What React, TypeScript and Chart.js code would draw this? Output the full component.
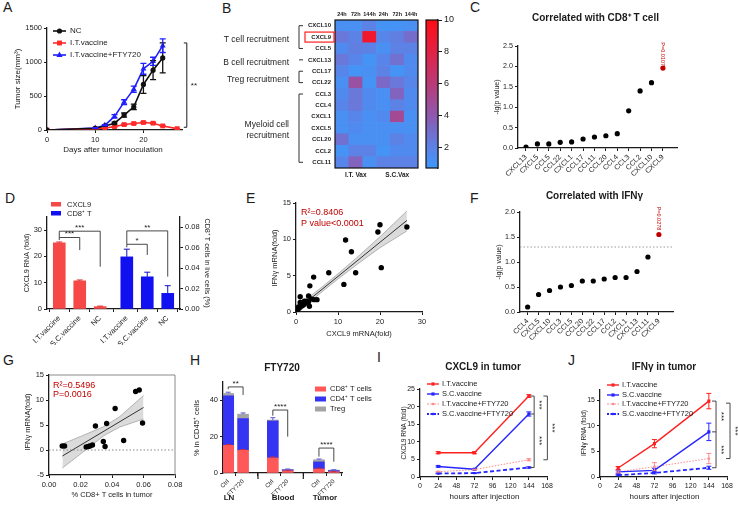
import React, { useEffect, useRef } from 'react';
import { Chart, registerables } from 'chart.js';

Chart.register(...registerables);

const FONT = '"Liberation Sans", Arial, Helvetica, sans-serif';
const INK = '#1b1b1b';

/* ================= DATA ================= */
// A – tumour growth
const A_DAYS = [0, 10, 12, 14, 16, 18, 20, 22, 24];
const A_NC = [0, 25, 60, 100, 220, 340, 670, 880, 1060];
const A_NC_ERR = [0, 5, 10, 15, 30, 40, 130, 140, 220];
const A_FTY = [0, 30, 70, 200, 410, 600, 900, 1010, 1240];
const A_FTY_ERR = [0, 5, 10, 25, 35, 45, 80, 60, 100];
const A_IT_DAYS = [0, 10, 12, 14, 16, 18, 20, 22, 24, 27];
const A_IT = [0, 20, 30, 50, 80, 95, 110, 100, 60, 20];
const A_IT_ERR = [0, 3, 5, 6, 10, 8, 12, 10, 8, 5];
const A_X_TICKS = [0, 10, 20];
const A_Y_TICKS = [0, 500, 1000, 1500];

// B – heatmap
const B_GENES = ['CXCL10', 'CXCL9', 'CCL5', 'CXCL13', 'CCL17', 'CCL22', 'CCL3', 'CCL4', 'CXCL1', 'CXCL5', 'CCL20', 'CCL2', 'CCL11'];
const B_COLS = ['24h', '72h', '144h', '24h', '72h', '144h'];
const B_GROUPS = ['I.T. Vax', 'S.C.Vax'];
const B_VALUES = [
  [1.2, 1.2, 2.0, 1.0, 1.0, 1.2],
  [2.5, 2.0, 9.0, 1.8, 2.2, 3.0],
  [1.5, 2.2, 2.0, 1.2, 2.0, 2.0],
  [2.5, 1.8, 1.0, 1.8, 2.8, 1.5],
  [1.8, 1.0, 1.2, 2.0, 1.0, 1.5],
  [1.2, 4.5, 1.0, 3.2, 2.5, 1.8],
  [1.5, 2.5, 1.5, 1.2, 3.5, 1.5],
  [1.8, 2.5, 1.5, 1.2, 2.0, 1.5],
  [1.2, 1.8, 1.2, 1.5, 5.0, 1.2],
  [1.2, 1.5, 1.2, 1.2, 1.2, 1.2],
  [2.8, 1.2, 1.2, 1.2, 2.0, 1.5],
  [1.0, 2.0, 2.0, 1.0, 1.5, 1.5],
  [1.8, 3.5, 1.2, 2.0, 2.0, 2.0],
];
const B_GROUP_ROWS: [number, number, string[]][] = [
  [0, 2, ['T cell recruitment']],
  [3, 3, ['B cell recruitment']],
  [4, 5, ['Treg recruitment']],
  [6, 12, ['Myeloid cell', 'recruitment']],
];
const B_MIN = 0.7;
const B_MAX = 10;
const B_BAR_TICKS = [2, 4, 6, 8, 10];

// C – correlation with CD8+ T cells
const C_GENES = ['CXCL13', 'CXCL5', 'CCL5', 'CCL22', 'CXCL1', 'CCL17', 'CCL11', 'CCL20', 'CCL4', 'CCL3', 'CCL2', 'CXCL10', 'CXCL9'];
const C_LOGP = [0.02, 0.1, 0.1, 0.14, 0.15, 0.22, 0.27, 0.3, 0.35, 0.91, 1.4, 1.6, 1.96];
const C_Y_TICKS = [0, 0.5, 1, 1.5, 2, 2.5];

// D – CXCL9 RNA & CD8 T cells
const D_LABELS = ['I.T.vaccine', 'S.C.vaccine', 'NC', 'I.T.vaccine', 'S.C.vaccine', 'NC'];
const D_POS = [0.6, 1.6, 2.6, 3.9, 4.9, 5.9];
const D_CXCL9 = [25.2, 10.7, 0.9];
const D_CXCL9_ERR = [0.3, 0.35, 0.2];
const D_CD8 = [0.051, 0.0315, 0.0153];
const D_CD8_ERR = [0.0075, 0.0045, 0.0075];
const D_Y_TICKS = [0, 10, 20, 30];
const D_Y2_TICKS = [0, 0.02, 0.04, 0.06, 0.08];

// E – CXCL9 vs IFNγ
const E_X = [26.4, 20.0, 19.5, 20.3, 11.8, 13.2, 14.2, 11.4, 7.8, 4.2, 3.3, 1.0, 3.0, 3.6, 4.3, 5.0, 3.0, 3.2, 2.0, 1.5, 1.2, 0.5, 0.8, 1.5, 2.5, 0.3, 1.0, 2.2, 0.6, 1.8];
const E_Y = [11.7, 12.0, 11.0, 6.1, 9.9, 8.3, 5.4, 3.8, 5.4, 4.8, 3.6, 2.1, 2.2, 1.8, 1.7, 1.7, 1.4, 0.8, 1.5, 1.2, 0.8, 0.4, 0.6, 0.9, 1.5, 0.2, 1.3, 1.2, 0.7, 1.0];
const E_FIT_X = [0.3, 26.4];
const E_FIT_Y = [0.35, 12.6];
const E_BAND_X = [0.3, 3, 6, 10, 15, 20, 26.4];
const E_BAND_HI = [0.9, 2.0, 3.35, 5.25, 7.75, 10.35, 13.9];
const E_BAND_LO = [-0.2, 1.2, 2.7, 4.55, 6.75, 8.85, 11.15];
const E_X_TICKS = [0, 10, 20, 30];
const E_Y_TICKS = [0, 5, 10, 15];

// F – correlation with IFNγ
const F_GENES = ['CCL4', 'CXCL5', 'CXCL10', 'CCL3', 'CCL5', 'CCL20', 'CCL22', 'CCL17', 'CCL2', 'CXCL1', 'CXCL13', 'CCL11', 'CXCL9'];
const F_LOGP = [0.1, 0.35, 0.43, 0.5, 0.53, 0.62, 0.62, 0.66, 0.69, 0.69, 0.81, 1.1, 1.55];
const F_THRESH = 1.3;
const F_Y_TICKS = [0, 0.5, 1, 1.5, 2];

// G – CD8 vs IFNγ
const G_X = [0.0084, 0.0099, 0.0236, 0.025, 0.026, 0.0276, 0.0295, 0.0345, 0.0356, 0.0366, 0.042, 0.0474, 0.055, 0.0573, 0.0594];
const G_Y = [0.8, 0.8, 0.6, 0.7, 0.8, 1.0, 4.8, 1.7, 0.7, 5.3, 8.3, 1.9, 11.7, 12.0, 5.4];
const G_FIT_X = [0.0085, 0.06];
const G_FIT_Y = [-1.2, 8.5];
const G_BAND_X = [0.0085, 0.02, 0.035, 0.045, 0.06];
const G_BAND_HI = [1.2, 2.7, 4.7, 6.7, 10.9];
const G_BAND_LO = [-3.6, -0.8, 2.9, 4.6, 6.2];
const G_X_TICKS = [0, 0.02, 0.04, 0.06, 0.08];
const G_Y_TICKS = [-5, 0, 5, 10, 15];

// H – FTY720 stacked bars
const H_XLABELS = ['Ctrl', 'FTY720', 'Ctrl', 'FTY720', 'Ctrl', 'FTY720'];
const H_POS = [0.35, 1.35, 3.35, 4.35, 6.45, 7.45];
const H_GROUPS = ['LN', 'Blood', 'Tumor'];
const H_CD8 = [15.2, 12.5, 8.3, 1.2, 2.2, 0.7];
const H_CD4 = [27.2, 17.4, 20.3, 0.5, 3.9, 0.6];
const H_TREG = [1.3, 2.4, 0.5, 0.3, 1.2, 0.3];
const H_CD8_ERR = [0.4, 0.4, 0.5, 0.2, 0.4, 0.1];
const H_TOP_ERR = [0.7, 0.7, 1.3, 0.2, 0.4, 0.2];
const H_Y_TICKS = [0, 20, 40];

// I / J – time courses
const T_HOURS = [24, 72, 144];
const T_X_TICKS = [0, 24, 48, 72, 96, 120, 144, 168];
const T_SERIES = ['I.T.vaccine', 'S.C.vaccine', 'I.T.vaccine+FTY720', 'S.C.vaccine+FTY720'];
const I_IT = [6.9, 6.9, 23.0];
const I_SC = [3.0, 2.2, 17.9];
const I_ITF = [1.5, 2.1, 4.9];
const I_SCF = [1.0, 1.1, 2.7];
const I_IT_ERR = [0.3, 0.3, 0.4];
const I_SC_ERR = [0.2, 0.2, 0.6];
const I_ITF_ERR = [0.1, 0.1, 0.3];
const I_SCF_ERR = [0.1, 0.1, 0.2];
const I_Y_TICKS = [0, 5, 10, 15, 20, 25];
const J_IT = [1.75, 6.5, 14.8];
const J_SC = [1.0, 1.3, 8.8];
const J_ITF = [1.0, 2.0, 3.6];
const J_SCF = [0.35, 0.8, 1.8];
const J_IT_ERR = [0.3, 0.8, 1.5];
const J_SC_ERR = [0.3, 0.4, 1.7];
const J_ITF_ERR = [0.2, 0.8, 1.0];
const J_SCF_ERR = [0.1, 0.2, 0.3];
const J_Y_TICKS = [0, 5, 10, 15];

/* ================= HELPERS ================= */
type Box = { x: number; y: number; w: number; h: number };
type Area = { l: number; t: number; r: number; b: number };

const wFit = (w: number) => (s: any) => { s.width = w; s.paddingTop = 0; s.paddingBottom = 0; };
const hFit = (h: number) => (s: any) => { s.height = h; s.paddingLeft = 0; s.paddingRight = 0; };
const pad = (B: Box, A: Area, rightAxis = false) => ({ left: 0, top: A.t - B.y, right: rightAxis ? 0 : B.x + B.w - A.r, bottom: 0 });

function lin(o: any) {
  return {
    type: 'linear',
    position: o.pos,
    min: o.min,
    max: o.max,
    offset: false,
    stacked: o.stacked || false,
    afterBuildTicks: (s: any) => { s.ticks = o.ticks.map((v: number) => ({ value: v })); },
    afterFit: o.fit,
    grid: { display: true, drawOnChartArea: false, drawTicks: true, tickLength: o.tl ?? 3, color: INK, tickColor: INK, lineWidth: 1 },
    border: { display: true, color: INK, width: 1.3 },
    ticks: {
      color: INK,
      font: { size: o.fs ?? 7.5, family: FONT },
      padding: o.pad ?? 2,
      autoSkip: false,
      maxRotation: o.rot ?? 0,
      minRotation: o.rot ?? 0,
      callback: o.cb || ((v: number) => String(v)),
    },
  };
}

function baseOpts(extra: any) {
  return {
    responsive: false,
    animation: false,
    devicePixelRatio: 1,
    events: [],
    plugins: { legend: { display: false }, tooltip: { enabled: false } },
    ...extra,
  };
}

function txt(ctx: any, s: string, x: number, y: number, o: any = {}) {
  ctx.save();
  ctx.translate(x, y);
  if (o.rot) ctx.rotate((o.rot * Math.PI) / 180);
  ctx.font = `${o.bold ? 'bold ' : ''}${o.size ?? 7.5}px ${FONT}`;
  ctx.fillStyle = o.color ?? INK;
  ctx.textAlign = o.align ?? 'center';
  ctx.textBaseline = o.base ?? 'middle';
  ctx.fillText(s, 0, 0);
  ctx.restore();
}

function seg(ctx: any, pts: number[][], o: any = {}) {
  ctx.save();
  ctx.strokeStyle = o.color ?? INK;
  ctx.lineWidth = o.w ?? 1;
  ctx.setLineDash(o.dash ?? []);
  ctx.beginPath();
  pts.forEach((p, i) => (i ? ctx.lineTo(p[0], p[1]) : ctx.moveTo(p[0], p[1])));
  ctx.stroke();
  ctx.restore();
}

function marker(ctx: any, style: string, x: number, y: number, r: number, color: string) {
  ctx.save();
  ctx.fillStyle = color;
  ctx.beginPath();
  if (style === 'circle') ctx.arc(x, y, r, 0, Math.PI * 2);
  else if (style === 'rect') ctx.rect(x - r * 0.72, y - r * 0.72, r * 1.44, r * 1.44);
  else if (style === 'triangle') { ctx.moveTo(x, y - r); ctx.lineTo(x + r * 0.9, y + r * 0.6); ctx.lineTo(x - r * 0.9, y + r * 0.6); ctx.closePath(); }
  ctx.fill();
  ctx.restore();
}

function tools(ctx: any, B: Box) {
  return {
    T: (s: string, x: number, y: number, o?: any) => txt(ctx, s, x - B.x, y - B.y, o),
    L: (pts: number[][], o?: any) => seg(ctx, pts.map((p) => [p[0] - B.x, p[1] - B.y]), o),
    R: (x: number, y: number, w: number, h: number, c: string) => { ctx.save(); ctx.fillStyle = c; ctx.fillRect(x - B.x, y - B.y, w, h); ctx.restore(); },
    M: (st: string, x: number, y: number, r: number, c: string) => marker(ctx, st, x - B.x, y - B.y, r, c),
  };
}

// horizontal significance bracket in data coordinates
function hBracket(ctx: any, xs: any, ys: any, x1: number, x2: number, y: number, yl: number, yr: number, stars: string) {
  const a = xs.getPixelForValue(x1), b = xs.getPixelForValue(x2);
  const py = ys.getPixelForValue(y);
  seg(ctx, [[a, ys.getPixelForValue(yl)], [a, py], [b, py], [b, ys.getPixelForValue(yr)]], { color: '#333', w: 0.9 });
  txt(ctx, stars, (a + b) / 2, py - 3.5, { size: 8 });
}

// vertical significance bracket in data coordinates
function vBracket(ctx: any, xs: any, ys: any, xv: number, yv: number[], stars: string) {
  const px = xs.getPixelForValue(xv);
  const pys = yv.map((v) => ys.getPixelForValue(v));
  seg(ctx, [[px, pys[0]], [px, pys[pys.length - 1]]], { color: '#333', w: 0.9 });
  pys.forEach((p) => seg(ctx, [[px - 4, p], [px, p]], { color: '#333', w: 0.9 }));
  for (let i = 0; i < pys.length - 1; i++) txt(ctx, stars, px + 5, (pys[i] + pys[i + 1]) / 2, { size: 8, rot: 90 });
}

const errPlugin = {
  id: 'errbars',
  afterDatasetsDraw(chart: any) {
    const ctx = chart.ctx;
    chart.data.datasets.forEach((ds: any, i: number) => {
      if (!ds.errs) return;
      const meta = chart.getDatasetMeta(i);
      const sc = chart.scales[meta.yAxisID];
      const ppu = Math.abs(sc.getPixelForValue(1) - sc.getPixelForValue(0));
      ctx.save();
      ctx.setLineDash([]);
      ctx.strokeStyle = ds.errColor || ds.borderColor;
      ctx.lineWidth = ds.errWidth || 1;
      meta.data.forEach((el: any, j: number) => {
        const e = ds.errs[j];
        if (!e) return;
        const d = e * ppu, c = ds.cap ?? 3;
        const y1 = el.y - d, y2 = ds.upOnly ? el.y : el.y + d;
        ctx.beginPath();
        ctx.moveTo(el.x, y1); ctx.lineTo(el.x, y2);
        ctx.moveTo(el.x - c, y1); ctx.lineTo(el.x + c, y1);
        if (!ds.upOnly) { ctx.moveTo(el.x - c, y2); ctx.lineTo(el.x + c, y2); }
        ctx.stroke();
      });
      ctx.restore();
    });
  },
};

const deco = (fn: (chart: any) => void) => ({ id: 'deco', afterDraw: fn });

const CMAP: [number, number[]][] = [
  [0.7, [62, 152, 250]], [2, [92, 130, 230]], [4, [142, 88, 176]], [6, [186, 58, 118]], [8, [226, 34, 70]], [10, [255, 12, 20]],
];
function heatColor(v: number) {
  const x = Math.max(CMAP[0][0], Math.min(CMAP[CMAP.length - 1][0], v));
  for (let i = 0; i < CMAP.length - 1; i++) {
    const [a, ca] = CMAP[i], [b, cb] = CMAP[i + 1];
    if (x <= b) {
      const t = (x - a) / (b - a);
      const c = ca.map((q, k) => Math.round(q + (cb[k] - q) * t));
      return `rgb(${c[0]},${c[1]},${c[2]})`;
    }
  }
  return 'rgb(255,12,20)';
}

const pts = (xs: number[], ys: number[]) => xs.map((x, i) => ({ x, y: ys[i] }));

/* ================= PANELS ================= */
// ---- A
const BA: Box = { x: 0, y: 15, w: 215, h: 145 };
const AA: Area = { l: 47, t: 28, r: 182, b: 130 };
function makeA() {
  const ds = (xs: number[], ys: number[], errs: number[], color: string, style: string, r: number) => ({
    data: pts(xs, ys), borderColor: color, backgroundColor: color, pointBackgroundColor: color, pointBorderColor: color,
    pointStyle: style, pointRadius: r, pointBorderWidth: 0, borderWidth: 1.6, errs, cap: 3, errColor: color, errWidth: 1.3,
  });
  return {
    type: 'line',
    data: {
      datasets: [
        ds(A_DAYS, A_NC, A_NC_ERR, '#111111', 'circle', 2.6),
        ds(A_IT_DAYS, A_IT, A_IT_ERR, '#ff2a2a', 'rect', 3.4),
        ds(A_DAYS, A_FTY, A_FTY_ERR, '#1f1fff', 'triangle', 3.4),
      ],
    },
    options: baseOpts({
      layout: { padding: pad(BA, AA) },
      scales: {
        x: lin({ pos: 'bottom', min: 0, max: 28, ticks: A_X_TICKS, fit: hFit(BA.y + BA.h - AA.b) }),
        y: lin({ pos: 'left', min: 0, max: 1500, ticks: A_Y_TICKS, fit: wFit(AA.l - BA.x) }),
      },
    }),
    plugins: [errPlugin, deco((chart: any) => {
      const { T, L, M } = tools(chart.ctx, BA);
      const leg: [string, string, string][] = [['NC', '#111111', 'circle'], ['I.T.vaccine', '#ff2a2a', 'rect'], ['I.T.vaccine+FTY720', '#1f1fff', 'triangle']];
      leg.forEach(([s, c, st], i) => {
        const y = 31 + i * 12;
        L([[53, y], [66, y]], { color: c, w: 1.6 });
        M(st, 59.5, y, st === 'circle' ? 2.6 : 3.4, c);
        T(s, 70, y, { align: 'left', size: 8 });
      });
      const xs = chart.scales.x, ys = chart.scales.y;
      const bx = xs.getPixelForValue(29) + BA.x;
      const t = ys.getPixelForValue(1280) + BA.y, b = ys.getPixelForValue(40) + BA.y;
      L([[bx - 3, t], [bx, t], [bx, b], [bx - 3, b]], { w: 1 });
      T('**', bx + 4, (t + b) / 2 + 1, { align: 'left', size: 8 });
      T('Tumor size(mm³)', 18, 79, { rot: -90, size: 8 });
      T('Days after tumor inoculation', 113, 150, { size: 8 });
    })],
  };
}

// ---- B heatmap
const BB: Box = { x: 215, y: 0, w: 225, h: 182 };
const AB: Area = { l: 335, t: 20, r: 418, b: 168 };
function makeB() {
  return {
    type: 'bar',
    data: {
      labels: B_COLS,
      datasets: B_GENES.map((g, k) => ({
        label: g,
        data: B_COLS.map(() => 1),
        backgroundColor: B_VALUES[k].map(heatColor),
        borderWidth: 0,
        barPercentage: 1,
        categoryPercentage: 1,
      })).reverse(),
    },
    options: baseOpts({
      layout: { padding: { left: AB.l - BB.x, top: AB.t - BB.y, right: BB.x + BB.w - AB.r, bottom: BB.y + BB.h - AB.b } },
      scales: {
        x: { display: false, stacked: true },
        y: { display: false, stacked: true, min: 0, max: B_GENES.length },
      },
    }),
    plugins: [deco((chart: any) => {
      const ctx = chart.ctx;
      const { x, y } = chart.scales;
      const ca = chart.chartArea;
      const n = B_GENES.length;
      const rowY = (k: number) => y.getPixelForValue(n - 0.5 - k);
      ctx.save();
      ctx.strokeStyle = '#111';
      ctx.lineWidth = 1.2;
      ctx.strokeRect(ca.left, ca.top, ca.right - ca.left, ca.bottom - ca.top);
      ctx.restore();
      B_COLS.forEach((c, i) => txt(ctx, c, x.getPixelForValue(i), ca.top - 6, { size: 5.5, bold: true }));
      B_GENES.forEach((g, k) => txt(ctx, g, ca.left - 4, rowY(k), { size: 6, bold: true, align: 'right' }));
      B_GROUPS.forEach((g, i) => txt(ctx, g, (x.getPixelForValue(3 * i) + x.getPixelForValue(3 * i + 2)) / 2, ca.bottom + 7, { size: 6.5, bold: true }));
      const bx = 299 - BB.x;
      B_GROUP_ROWS.forEach(([r0, r1, lines]) => {
        const y0 = rowY(r0), y1 = rowY(r1);
        if (r0 === r1) seg(ctx, [[bx, y0], [bx + 4, y0]], { color: '#333' });
        else seg(ctx, [[bx + 4, y0], [bx, y0], [bx, y1], [bx + 4, y1]], { color: '#333' });
        const mid = (y0 + y1) / 2 + 2.5;
        lines.forEach((s, i) => txt(ctx, s, 289 - BB.x, mid + (i - (lines.length - 1) / 2) * 11, { size: 8.5, align: 'right' }));
      });
      const ry = rowY(1);
      ctx.save();
      ctx.strokeStyle = '#ff2020';
      ctx.lineWidth = 1.2;
      ctx.strokeRect(305 - BB.x, ry - 5, 29, 10);
      ctx.restore();
    })],
  };
}

// ---- B colour bar
const BCB: Box = { x: 420, y: 10, w: 45, h: 168 };
const ACB: Area = { l: 426, t: 20, r: 438, b: 168 };
function makeCbar() {
  return {
    type: 'scatter',
    data: { datasets: [{ data: [] }] },
    options: baseOpts({
      layout: { padding: { left: ACB.l - BCB.x, top: ACB.t - BCB.y, right: 0, bottom: BCB.y + BCB.h - ACB.b } },
      scales: {
        x: { display: false, min: 0, max: 1 },
        y: lin({ pos: 'right', min: B_MIN, max: B_MAX, ticks: B_BAR_TICKS, fit: wFit(BCB.x + BCB.w - ACB.r), fs: 9, tl: 4 }),
      },
    }),
    plugins: [deco((chart: any) => {
      const ctx = chart.ctx, ca = chart.chartArea;
      const g = ctx.createLinearGradient(0, ca.bottom, 0, ca.top);
      CMAP.forEach(([v]) => g.addColorStop((v - B_MIN) / (B_MAX - B_MIN), heatColor(v)));
      ctx.save();
      ctx.fillStyle = g;
      ctx.fillRect(ca.left, ca.top, ca.right - ca.left, ca.bottom - ca.top);
      ctx.strokeStyle = '#111';
      ctx.lineWidth = 1.2;
      ctx.strokeRect(ca.left, ca.top, ca.right - ca.left, ca.bottom - ca.top);
      ctx.restore();
    })],
  };
}

// ---- C / F dot plots
function makeDots(B: Box, A: Area, genes: string[], vals: number[], yMax: number, yTicks: number[], title: string, pText: string, pY: number, thresh: number | null) {
  return {
    type: 'scatter',
    data: {
      datasets: [{
        data: vals.map((v, i) => ({ x: i, y: v })),
        pointRadius: 2.6,
        pointBorderWidth: 0,
        pointBackgroundColor: vals.map((_, i) => (i === vals.length - 1 ? '#c00000' : '#000')),
      }],
    },
    options: baseOpts({
      layout: { padding: pad(B, A) },
      scales: {
        x: lin({ pos: 'bottom', min: -0.7, max: (A.r - A.l) / ((A.r - A.l - 15) / (genes.length - 1 + 0.62)) - 0.7, ticks: genes.map((_, i) => i), cb: (_v: number, i: number) => genes[i], rot: 45, fs: 7.2, fit: hFit(B.y + B.h - A.b) }),
        y: lin({ pos: 'left', min: 0, max: yMax, ticks: yTicks, cb: (v: number) => v.toFixed(1), fs: 7.2, fit: wFit(A.l - B.x) }),
      },
    }),
    plugins: [deco((chart: any) => {
      const ctx = chart.ctx;
      const { T } = tools(ctx, B);
      const { x, y } = chart.scales;
      if (thresh !== null) {
        const py = y.getPixelForValue(thresh);
        seg(ctx, [[chart.chartArea.left, py], [chart.chartArea.right, py]], { color: '#9a9a9a', w: 1, dash: [1.5, 2] });
      }
      txt(ctx, pText, x.getPixelForValue(genes.length - 1), y.getPixelForValue(pY), { size: 5.5, rot: 90, color: '#c00000' });
      T(title, (A.l + A.r) / 2 - 2, A.t - (thresh === null ? 28 : 16), { size: 10, bold: true });
      T('-lg(p value)', A.l - 21, (A.t + A.b) / 2, { rot: -90, size: 7 });
    })],
  };
}
const BC: Box = { x: 490, y: 8, w: 200, h: 178 };
const AC: Area = { l: 518, t: 46, r: 677, b: 148 };
const BF: Box = { x: 490, y: 186, w: 200, h: 164 };
const AF: Area = { l: 520, t: 212, r: 673, b: 312 };

// ---- D
const BD: Box = { x: 0, y: 195, w: 215, h: 150 };
const AD: Area = { l: 47, t: 217, r: 180, b: 309 };
function makeD() {
  return {
    type: 'bar',
    data: {
      datasets: [
        { data: pts(D_POS.slice(0, 3), D_CXCL9), backgroundColor: '#f74848', yAxisID: 'y', barThickness: 12, grouped: false, errs: D_CXCL9_ERR, upOnly: true, errColor: '#d83030', cap: 3 },
        { data: pts(D_POS.slice(3), D_CD8), backgroundColor: '#1010f0', yAxisID: 'y2', barThickness: 12, grouped: false, errs: D_CD8_ERR, upOnly: true, errColor: '#1010c0', cap: 3 },
      ],
    },
    options: baseOpts({
      layout: { padding: pad(BD, AD, true) },
      scales: {
        x: lin({ pos: 'bottom', min: 0, max: 6.5, ticks: D_POS, cb: (_v: number, i: number) => D_LABELS[i], rot: 45, fit: hFit(BD.y + BD.h - AD.b) }),
        y: lin({ pos: 'left', min: 0, max: 35, ticks: D_Y_TICKS, fit: wFit(AD.l - BD.x) }),
        y2: lin({ pos: 'right', min: 0, max: 0.09, ticks: D_Y2_TICKS, cb: (v: number) => v.toFixed(2), fit: wFit(BD.x + BD.w - AD.r) }),
      },
    }),
    plugins: [errPlugin, deco((chart: any) => {
      const ctx = chart.ctx;
      const { T, R } = tools(ctx, BD);
      const { x, y, y2 } = chart.scales;
      R(51, 202, 10, 4.5, '#f74848');
      T('CXCL9', 67, 204.5, { align: 'left', size: 7.5 });
      R(51, 211, 10, 4.5, '#1010f0');
      T('CD8⁺ T', 67, 213.5, { align: 'left', size: 7.5 });
      hBracket(ctx, x, y, D_POS[0], D_POS[2], 29.6, 27.2, 16.1, '***');
      hBracket(ctx, x, y, D_POS[0], D_POS[1], 27.2, 26.2, 22.4, '***');
      hBracket(ctx, x, y2, D_POS[3], D_POS[5], 0.0764, 0.0633, 0.0317, '**');
      hBracket(ctx, x, y2, D_POS[3], D_POS[4], 0.0633, 0.0604, 0.0529, '*');
      T('CXCL9 RNA (fold)', 27, 263, { rot: -90, size: 7.2 });
      T('CD8⁺ T cells in live cells (%)', 207, 263, { rot: 90, size: 7.2 });
    })],
  };
}

// ---- E / G regression scatter
function makeReg(B: Box, A: Area, o: any) {
  return {
    type: 'scatter',
    data: {
      datasets: [
        { data: pts(o.xs, o.ys), pointRadius: 2.7, pointBorderWidth: 0, backgroundColor: '#000', order: 0 },
        { type: 'line', data: pts(o.fitX, o.fitY), borderColor: '#333', borderWidth: 1, pointRadius: 0, order: 1 },
        { type: 'line', data: pts(o.bandX, o.hi), borderColor: '#9a9a9a', borderWidth: 0.7, pointRadius: 0, fill: false, order: 2 },
        { type: 'line', data: pts(o.bandX, o.lo), borderColor: '#9a9a9a', borderWidth: 0.7, pointRadius: 0, fill: '-1', backgroundColor: 'rgba(175,175,175,0.45)', order: 3 },
      ],
    },
    options: baseOpts({
      layout: { padding: pad(B, A) },
      scales: {
        x: lin({ pos: 'bottom', min: o.xMin, max: o.xMax, ticks: o.xTicks, cb: o.xcb, fit: hFit(B.y + B.h - A.b) }),
        y: lin({ pos: 'left', min: o.yMin, max: o.yMax, ticks: o.yTicks, fit: wFit(A.l - B.x) }),
      },
    }),
    plugins: [deco(o.deco)],
  };
}
const BE: Box = { x: 240, y: 195, w: 190, h: 145 };
const AE: Area = { l: 296, t: 203, r: 422, b: 312 };
function makeE() {
  return makeReg(BE, AE, {
    xs: E_X, ys: E_Y, fitX: E_FIT_X, fitY: E_FIT_Y, bandX: E_BAND_X, hi: E_BAND_HI, lo: E_BAND_LO,
    xMin: 0, xMax: 30, xTicks: E_X_TICKS, yMin: 0, yMax: 15, yTicks: E_Y_TICKS,
    deco: (chart: any) => {
      const { T } = tools(chart.ctx, BE);
      T('R²=0.8406', 301, 213, { align: 'left', size: 9, color: '#c00000' });
      T('P value<0.0001', 301, 224, { align: 'left', size: 9, color: '#c00000' });
      T('IFNγ mRNA(fold)', 275, 258, { rot: -90, size: 7.5 });
      T('CXCL9 mRNA(fold)', 359, 334, { size: 7.5 });
    },
  });
}
const BG: Box = { x: 0, y: 355, w: 190, h: 150 };
const AG: Area = { l: 49, t: 375, r: 175, b: 475 };
function makeG() {
  return makeReg(BG, AG, {
    xs: G_X, ys: G_Y, fitX: G_FIT_X, fitY: G_FIT_Y, bandX: G_BAND_X, hi: G_BAND_HI, lo: G_BAND_LO,
    xMin: 0, xMax: 0.08, xTicks: G_X_TICKS, xcb: (v: number) => v.toFixed(2), yMin: -5, yMax: 15, yTicks: G_Y_TICKS,
    deco: (chart: any) => {
      const ctx = chart.ctx, ca = chart.chartArea;
      const { T } = tools(ctx, BG);
      seg(ctx, [[ca.left, ca.top], [ca.right, ca.top], [ca.right, ca.bottom]], { color: '#8a8a8a', w: 1 });
      const z = chart.scales.y.getPixelForValue(0);
      seg(ctx, [[ca.left, z], [ca.right, z]], { color: '#888', w: 1, dash: [1.5, 2] });
      T('R²=0.5496', 53, 386, { align: 'left', size: 9, color: '#c00000' });
      T('P=0.0016', 53, 395, { align: 'left', size: 9, color: '#c00000' });
      T('IFNγ mRNA(fold)', 28, 422, { rot: -90, size: 7.5 });
      T('% CD8+ T cells in tumor', 112, 495, { size: 7.5 });
    },
  });
}

// ---- H
const BH: Box = { x: 188, y: 358, w: 195, h: 147 };
const AH: Area = { l: 223, t: 382, r: 342, b: 473 };
const H_COLORS = ['#ff5858', '#3434f2', '#a4a4a4'];
const H_LEGEND = ['CD8⁺ T cells', 'CD4⁺ T cells', 'Treg'];
function makeH() {
  return {
    type: 'bar',
    data: {
      datasets: [
        { data: pts(H_POS, H_CD8), backgroundColor: H_COLORS[0], barThickness: 11, errs: H_CD8_ERR, upOnly: true, errColor: '#d03030', cap: 2.5 },
        { data: pts(H_POS, H_CD4), backgroundColor: H_COLORS[1], barThickness: 11 },
        { data: pts(H_POS, H_TREG), backgroundColor: H_COLORS[2], barThickness: 11, errs: H_TOP_ERR, upOnly: true, errColor: '#5a5ad8', cap: 2.5 },
      ],
    },
    options: baseOpts({
      layout: { padding: pad(BH, AH) },
      scales: {
        x: lin({ pos: 'bottom', min: 0, max: 8, ticks: H_POS, cb: (_v: number, i: number) => H_XLABELS[i], rot: 45, fs: 6, stacked: true, fit: hFit(BH.y + BH.h - AH.b) }),
        y: lin({ pos: 'left', min: 0, max: 50, ticks: H_Y_TICKS, stacked: true, fit: wFit(AH.l - BH.x) }),
      },
    }),
    plugins: [errPlugin, deco((chart: any) => {
      const ctx = chart.ctx;
      const { T, R, L } = tools(ctx, BH);
      const { x, y } = chart.scales;
      T('FTY720', 282, 368, { size: 10, bold: true });
      H_LEGEND.forEach((s, i) => {
        const yy = 389 + i * 10;
        R(315, yy - 2.5, 11, 5, H_COLORS[i]);
        T(s, 330, yy, { align: 'left', size: 7.5 });
      });
      hBracket(ctx, x, y, H_POS[0], H_POS[1], 47.3, 46, 42.9, '**');
      hBracket(ctx, x, y, H_POS[2], H_POS[3], 34.6, 31.5, 20, '****');
      hBracket(ctx, x, y, H_POS[4], H_POS[5], 13.7, 9, 6.2, '****');
      [2.35, 5.4].forEach((v) => {
        const px = x.getPixelForValue(v) + BH.x;
        L([[px, AH.b], [px, AH.b + 6]], { w: 1.2 });
      });
      [229, 283, 325].forEach((gx, i) => T(H_GROUPS[i], gx, 498, { size: 8, bold: true }));
      T('% in CD45⁺ cells', 197, 428, { rot: -90, size: 7.5 });
    })],
  };
}

// ---- I / J time course
const T_STYLE = [
  { color: '#ff2020', dash: [], w: 1.4, r: 2.2 },
  { color: '#2626ff', dash: [], w: 1.4, r: 2.2 },
  { color: '#ff8c8c', dash: [1.5, 1.5], w: 1, r: 1.6 },
  { color: '#2626ff', dash: [4, 2.5], w: 1.8, r: 1.6 },
];
function makeTime(B: Box, A: Area, o: any) {
  return {
    type: 'line',
    data: {
      datasets: o.series.map((ys: number[], k: number) => ({
        data: pts(T_HOURS, ys), borderColor: T_STYLE[k].color, backgroundColor: T_STYLE[k].color, borderDash: T_STYLE[k].dash,
        borderWidth: T_STYLE[k].w, pointRadius: T_STYLE[k].r, pointStyle: 'rect', pointBorderWidth: 0,
        errs: o.errs[k], errColor: T_STYLE[k].color, cap: 2.5,
      })),
    },
    options: baseOpts({
      layout: { padding: pad(B, A) },
      scales: {
        x: lin({ pos: 'bottom', min: 0, max: 168, ticks: T_X_TICKS, fs: 7, fit: hFit(B.y + B.h - A.b) }),
        y: lin({ pos: 'left', min: 0, max: o.yMax, ticks: o.yTicks, fs: 7, fit: wFit(A.l - B.x) }),
      },
    }),
    plugins: [errPlugin, deco((chart: any) => {
      const ctx = chart.ctx;
      const { T, L, M } = tools(ctx, B);
      const { x, y } = chart.scales;
      T(o.title, o.titleX, 367.5, { size: 10, bold: true });
      T_SERIES.forEach((s, k) => {
        const yy = o.legY[k];
        L([[o.legX, yy], [o.legX + 12, yy]], { color: T_STYLE[k].color, w: T_STYLE[k].w, dash: T_STYLE[k].dash.length ? [2, 1.5] : [] });
        M('rect', o.legX + 6, yy, T_STYLE[k].r, T_STYLE[k].color);
        T(s, o.legX + 15, yy, { align: 'left', size: 7.5 });
      });
      vBracket(ctx, x, y, o.inner[0], o.inner.slice(1), '***');
      vBracket(ctx, x, y, o.outer[0], o.outer.slice(1), '***');
      T(o.yTitle, A.l - 16, 433, { rot: -90, size: 6.5 });
      T('hours after injection', (A.l + A.r) / 2 + 1, 497, { size: 8 });
    })],
  };
}
const BI: Box = { x: 372, y: 355, w: 186, h: 150 };
const AI: Area = { l: 420, t: 389, r: 547, b: 477 };
function makeI() {
  return makeTime(BI, AI, {
    series: [I_IT, I_SC, I_ITF, I_SCF], errs: [I_IT_ERR, I_SC_ERR, I_ITF_ERR, I_SCF_ERR],
    yMax: 25, yTicks: I_Y_TICKS, title: 'CXCL9 in tumor', titleX: 483, legX: 427, legY: [384, 394, 404, 414],
    inner: [151, 23, 17.9, 2.7], outer: [168.5, 23, 4.9], yTitle: 'CXCL9 RNA (fold)',
  });
}
const BJ: Box = { x: 558, y: 355, w: 180, h: 150 };
const AJ: Area = { l: 600, t: 389.8, r: 727, b: 477 };
function makeJ() {
  return makeTime(BJ, AJ, {
    series: [J_IT, J_SC, J_ITF, J_SCF], errs: [J_IT_ERR, J_SC_ERR, J_ITF_ERR, J_SCF_ERR],
    yMax: 17, yTicks: J_Y_TICKS, title: 'IFNγ in tumor', titleX: 664, legX: 607, legY: [385, 395, 404, 414],
    inner: [153.5, 14.8, 8.8, 1.8], outer: [172, 14.4, 3.6], yTitle: 'IFNγ RNA (fold)',
  });
}

/* ================= REACT ================= */
function ChartBox({ box, make }: { box: Box; make: () => any }) {
  const ref = useRef<HTMLCanvasElement>(null);
  useEffect(() => {
    const chart = new Chart(ref.current as HTMLCanvasElement, make());
    return () => chart.destroy();
  }, []);
  return (
    <canvas
      ref={ref}
      width={box.w}
      height={box.h}
      style={{ position: 'absolute', left: box.x, top: box.y, width: box.w, height: box.h }}
    />
  );
}

const LETTERS: [string, number, number][] = [
  ['A', 3, 0], ['B', 222, 1], ['C', 470, 0], ['D', 5, 191], ['E', 246, 191],
  ['F', 470, 191], ['G', 3, 353], ['H', 190, 353], ['I', 377, 350], ['J', 568, 353],
];

export default function App() {
  return (
    <div style={{ position: 'fixed', left: 0, top: 0, width: 738, height: 505, background: '#fff', overflow: 'hidden', fontFamily: FONT }}>
      {LETTERS.map(([s, x, y]) => (
        <div key={s} style={{ position: 'absolute', left: x, top: y, fontSize: 14, lineHeight: 1, color: INK }}>{s}</div>
      ))}
      <ChartBox box={BA} make={makeA} />
      <ChartBox box={BB} make={makeB} />
      <ChartBox box={BCB} make={makeCbar} />
      <ChartBox box={BC} make={() => makeDots(BC, AC, C_GENES, C_LOGP, 2.5, C_Y_TICKS, 'Correlated with CD8⁺ T cell', 'P=0.0107', 2.3, null)} />
      <ChartBox box={BD} make={makeD} />
      <ChartBox box={BE} make={makeE} />
      <ChartBox box={BF} make={() => makeDots(BF, AF, F_GENES, F_LOGP, 2, F_Y_TICKS, 'Correlated with IFNγ', 'P=0.0278', 1.87, F_THRESH)} />
      <ChartBox box={BG} make={makeG} />
      <ChartBox box={BH} make={makeH} />
      <ChartBox box={BI} make={makeI} />
      <ChartBox box={BJ} make={makeJ} />
    </div>
  );
}
